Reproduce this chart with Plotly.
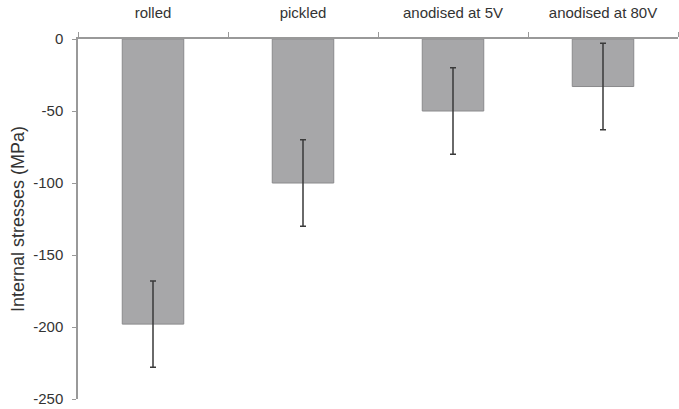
import plotly.graph_objects as go

categories = ["rolled", "pickled", "anodised at 5V", "anodised at 80V"]
stresses = [-198, -100, -50, -33]
errors = [30, 30, 30, 30]
y_ticks = [0, -50, -100, -150, -200, -250]
y_tick_labels = ["0", "-50", "-100", "-150", "-200", "-250"]

fig = go.Figure()
fig.add_trace(go.Bar(
    x=categories, y=stresses,
    width=0.41,
    marker=dict(color="#a7a7a9", line=dict(color="#8a8a8c", width=1)),
    error_y=dict(type="data", array=errors, visible=True,
                 color="#3a3a3a", thickness=1.5, width=3),
))

fig.update_layout(
    width=679, height=409,
    margin=dict(l=78, r=1, t=39, b=10),
    plot_bgcolor="white", paper_bgcolor="white",
    font=dict(family="Liberation Sans, Arial, sans-serif", color="#333333"),
    showlegend=False,
    xaxis=dict(
        side="top", showline=True, linecolor="#999999", linewidth=1.5,
        ticks="outside", tickson="boundaries", ticklen=5, tickcolor="#999999",
        tickfont=dict(size=15, color="#333333"), showgrid=False,
        ticklabelstandoff=13,
    ),
    yaxis=dict(
        range=[-250, 0], tickvals=y_ticks, ticktext=y_tick_labels,
        showline=True, linecolor="#999999", linewidth=1.5,
        ticks="outside", ticklen=4, tickcolor="#999999",
        tickfont=dict(size=15, color="#333333"), showgrid=False, zeroline=False,
        ticklabelstandoff=6,
        title=dict(text="Internal stresses (MPa)", font=dict(size=18, color="#333333"), standoff=4),
    ),
)

fig.write_html("out.html", config={"displayModeBar": False},
               post_script="document.body.style.margin='0';document.body.style.overflow='hidden';")
